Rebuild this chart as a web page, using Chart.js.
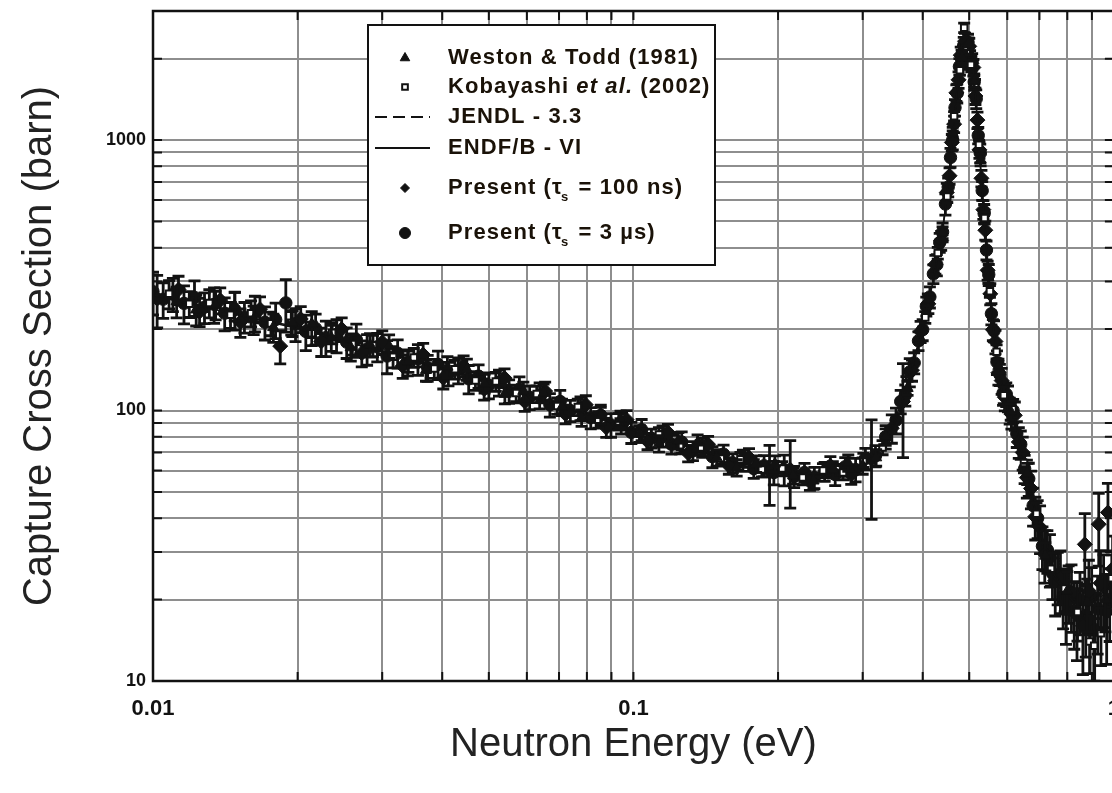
<!DOCTYPE html>
<html>
<head>
<meta charset="utf-8">
<script src="https://cdn.jsdelivr.net/npm/chart.js@4.4.1/dist/chart.umd.min.js"></script>
<style>
  html, body { margin: 0; padding: 0; background: #fff; overflow: hidden; }
  #wrap { position: relative; width: 1135px; height: 793px; }
</style>
</head>
<body>
<div id="wrap"><canvas id="c" width="1135" height="793"></canvas></div>
<script>
// Capture cross section vs neutron energy (eV, barn), error bars in percent.

const westonE = [0.0112,0.0123,0.0135,0.0148,0.0162,0.0178,0.0195,0.0214,0.0235,0.0258,
  0.0283,0.0310,0.0340,0.0370,0.0410,0.0450,0.0490,0.0540,0.0590,0.0650,
  0.0710,0.0780,0.0855,0.0940,0.103,0.113,0.124,0.136,0.149,0.164,
  0.180,0.197,0.215,0.237,0.260,0.280,0.300,0.320,0.335,
  0.372,0.410,0.440,0.462,0.483,0.498,0.512,0.528,0.548,0.575,
  0.610,0.660,0.720,0.800,0.880,0.960];
const westonXS = [253,236,246,244,217,203,211,209,186,171,
  175,173,152,141,145,142,126,115,118,116,
  103,94,96,93,82,75.5,77.5,76,67,61.5,
  63.5,63.5,57.5,55,60.5,64,62.5,67,80,
  121,257,455,1060,2020,2270,1650,845,311,146,
  99,58.5,29,21.5,19.5,20];
const westonErr = [13,13,12,12,12,12,11,11,11,11, 10,10,9,9,9,9,8,8,8,8,
  7,7,7,7,7,7,7,7,7,7, 7,7,7,7,7,7,7,7,7,
  6,5,5,5,5,5,5,5,5,6, 7,9,12,18,22,24];

const kobaE = [0.0108,0.0119,0.0131,0.0145,0.0160,0.0176,0.0194,0.0214,0.0236,0.0260,
  0.0287,0.0316,0.0349,0.0385,0.0425,0.0469,0.0517,0.0570,0.0629,0.0694,
  0.0766,0.0845,0.0932,0.103,0.113,0.125,0.138,0.152,0.167,0.185,
  0.204,0.225,0.248,0.273,0.301,0.330,0.370,0.405,0.430,0.450,
  0.465,0.478,0.488,0.494,0.504,0.514,0.524,0.538,0.552,0.570,
  0.590,0.615,0.650,0.690,0.740,0.790,0.840,0.890,0.910,0.940,0.990];
const kobaXS = [270,248,250,226,229,210,211,193,194,176,
  174,158,157,143,142,129,128,116,115,104,
  103,92.5,91,82,81.5,73.5,73,66.5,66,60.5,
  61,56.5,60,59,65.5,73,126,221,382,618,
  1225,1810,2600,2150,1900,1610,960,515,276,165,
  114,101,64,41.5,26,22,18,14,13.5,15,24];
const kobaErr = [12,11,12,11,11,10,10,10,9,9, 9,9,8,8,8,8,8,7,7,7, 7,7,7,7,6,6,6,6,6,6,
  6,6,6,6,6,6,6,5,5,5, 4,4,4,4,4,4,4,5,5,6, 7,7,8,10,14,18,22,24,26,24,22];

const jendlE = [0.01,0.015,0.02,0.03,0.04,0.05,0.06,0.08,0.1,0.12,
  0.15,0.18,0.2,0.22,0.25,0.28,0.3,0.32,0.34,0.36,
  0.38,0.4,0.42,0.44,0.45,0.46,0.47,0.48,0.49,0.5,
  0.51,0.52,0.53,0.54,0.55,0.56,0.58,0.6,0.62,0.64,
  0.66,0.7,0.75,0.8,0.86,0.93,1.0];
const jendlXS = [268,228,203,166,143,128,115,98,85,77,
  68,62,60,58,58.5,61,64,70,82,105,
  145,205,305,470,640,950,1450,2000,2250,2150,
  1800,1150,700,450,300,205,130,110,95,73,
  57,36,25,20.5,18.5,20,23];

const endfE = [0.01,0.015,0.02,0.03,0.04,0.05,0.06,0.08,0.1,0.12,
  0.15,0.18,0.2,0.22,0.25,0.28,0.3,0.32,0.34,0.36,
  0.38,0.4,0.42,0.44,0.45,0.46,0.47,0.48,0.49,0.5,
  0.51,0.52,0.53,0.54,0.55,0.56,0.58,0.6,0.62,0.64,
  0.66,0.7,0.75,0.8,0.86,0.93,1.0];
const endfXS = [266,226,201,165,142,127,114,97,84.5,76.5,
  67.5,61.5,59.5,57.5,58,60.5,63.5,69,80,102,
  141,200,298,460,625,930,1420,1980,2240,2170,
  1830,1180,720,460,305,208,132,111,96,74,
  58,36.5,25.5,21,19,20.5,23.5];

const p100E = [0.0102,0.0113,0.0125,0.0138,0.0152,0.0167,0.0184,0.0203,0.0224,0.0247,
  0.0272,0.0300,0.0331,0.0365,0.0402,0.0443,0.0489,0.0539,0.0594,0.0655,
  0.0722,0.0796,0.0878,0.0968,0.107,0.118,0.130,0.143,0.158,0.174,
  0.192,0.212,0.233,0.257,0.284,0.313,0.345,
  0.364,0.380,0.396,0.411,0.425,0.437,0.449,0.455,0.460,0.465,
  0.470,0.475,0.480,0.485,0.490,0.495,0.500,0.505,0.510,0.515,
  0.520,0.525,0.530,0.535,0.540,0.546,0.553,0.560,0.567,0.575,
  0.584,0.593,0.602,0.612,0.622,0.634,0.646,0.659,0.672,0.686,
  0.702,0.718,0.736,0.755,0.774,0.795,0.816,0.838,0.862,0.870,
  0.887,0.912,0.930,0.938,0.966,0.972,0.994];
const p100XS = [259,280,232,256,212,237,173,218,180,200,
  163,179,146,161,132,146,120,132,108,118,
  97,105,86.5,92.5,77,83,69.5,75,62.5,67,
  59.5,60.5,54.5,62.5,58,66,86,
  108,141,196,248,347,425,640,738,980,1145,
  1495,1670,2060,2080,2320,2210,2220,1920,1855,1455,
  1185,920,722,553,464,330,270,199,180,138,
  129,112,111,97,96,76.5,70,56.5,51.5,40.5,
  37,29.5,28.5,23.5,24,19.5,21,17.5,16,32,
  21.5,15.5,38,23,18,42,26];
const p100Err = [22,12,12,11,12,11,14,11,12,10, 11,10,10,10,9,9,9,8,8,8,
  8,8,8,8,7,7,7,7,7,8, 25,28,7,8,8,40,12,
  38,9,9,8,8,8,8,7,7,7, 7,7,7,7,7,7,7,7,7,7,
  7,7,7,8,8,8,9,9,10,10, 11,11,11,12,12,13,14,16,16,18,
  20,22,22,26,26,30,28,32,34,30, 30,36,30,32,36,28,32];

const p3E = [0.0100,0.0105,0.0110,0.0116,0.0122,0.0128,0.0134,0.0141,0.0148,0.0155,
  0.0163,0.0171,0.0180,0.0189,0.0198,0.0208,0.0218,0.0229,0.0241,0.0253,
  0.0265,0.0279,0.0293,0.0307,0.0323,0.0339,0.0356,0.0373,0.0392,0.0412,
  0.0432,0.0454,0.0476,0.0500,0.0525,0.0551,0.0579,0.0608,0.0638,0.0670,
  0.0704,0.0739,0.0776,0.0815,0.0855,0.0898,0.0943,0.0990,0.104,0.109,
  0.115,0.120,0.126,0.133,0.139,0.146,0.154,0.161,0.169,0.178,
  0.187,0.196,0.206,0.216,0.227,0.238,0.250,0.263,0.276,0.290,
  0.304,0.319,0.335,0.352,
  0.360,0.368,0.376,0.384,0.392,0.400,0.407,0.414,0.421,0.428,
  0.434,0.440,0.446,0.452,0.457,0.462,0.467,0.472,0.477,0.482,
  0.487,0.492,0.497,0.502,0.507,0.512,0.517,0.522,0.527,0.532,
  0.537,0.543,0.549,0.556,0.563,0.571,0.579,0.588,0.597,0.607,
  0.617,0.628,0.640,0.652,0.665,0.679,0.694,0.710,0.727,0.745,
  0.764,0.784,0.805,0.827,0.850,0.874,0.899,0.925,0.952,0.980];
const p3XS = [275,258,270,249,262,241,247,229,236,222,
  230,212,217,250,209,196,201,186,190,179,
  183,169,172,159,163,151,155,144,148,137,
  141,131,134,124,127,118,120,112,114,105,
  108,100,102,94,96,88.5,90,83,85,79,
  80.5,75,76.5,71,73,67.5,69,64,65.5,61,
  62.5,59,60.5,57,59,56.5,59.5,58,62,60.5,
  66.5,68,80,92,
  108,114,139,150,181,199,243,263,320,346,
  418,457,580,670,862,1000,1318,1490,1870,1990,
  2240,2200,2300,2000,1950,1640,1420,1040,895,650,
  535,392,318,228,197,151,136,116,115,100,
  100,82,75,61,56,44.5,40,31.5,30.5,25,
  24.5,20.5,21.5,18.2,20,17.5,20.5,18.5,22.5,20];
const p3Err = [18,15,14,16,15,13,15,14,16,13, 15,14,15,22,14,15,13,15,14,13, 14,13,12,14,
  12,11,13,11,12,10,11,12,10,11,11,10,11,10,11,10,10,9,10,9,9,10,9,9,
  9,8,9,8,9,8,8,9,8,8,9,8,9,10,13,9,8,9,8,9,8,10,9,9,10,11,
  10,9,12,9,8,9,8,9,8,9, 8,8,9,8,8,8,7,8,7,8, 7,7,7,7,7,7,8,7,8,8,
  8,8,9,9,9,10,9,10,10,11, 10,11,12,12,14,16,16,18,18,20, 22,24,24,28,26,30,28,32,30,30];

// Axis grid positions and labelled ticks
const xGridValues = [0.01,0.02,0.03,0.04,0.05,0.06,0.07,0.08,0.09,0.1,0.2,0.3,0.4,0.5,0.6,0.7,0.8,0.9,1];
const xLabelValues = [0.01, 0.1, 1];
const xLabelText = ['0.01', '0.1', '1'];
const yGridValues = [10,20,30,40,50,60,70,80,90,100,200,300,400,500,600,700,800,900,1000,2000,3000];
const yLabelValues = [10, 100, 1000];
const yLabelText = ['10', '100', '1000'];

const INK = '#121212';
const FONT = "'Liberation Sans', Arial, Helvetica, sans-serif";

const pts = (E, S) => E.map((e, i) => ({ x: e, y: S[i] }));

// Vertical error bars with caps, drawn beneath each dataset's markers
const errorBars = {
  id: 'errorBars',
  beforeDatasetDraw(chart, args) {
    const ds = chart.data.datasets[args.index];
    if (!ds.errors) return;
    const { ctx, chartArea: a } = chart;
    const xs = chart.scales.x, ys = chart.scales.y;
    ctx.save();
    ctx.beginPath();
    ctx.rect(a.left, a.top, a.right - a.left, a.bottom - a.top);
    ctx.clip();
    ctx.strokeStyle = INK;
    ctx.lineWidth = 2.8;
    ctx.beginPath();
    ds.data.forEach((p, i) => {
      const d = p.y * ds.errors[i] / 100;
      const px = xs.getPixelForValue(p.x);
      const y1 = ys.getPixelForValue(p.y + d);
      const y2 = ys.getPixelForValue(Math.max(p.y - d, 1e-3));
      ctx.moveTo(px, y1); ctx.lineTo(px, y2);
      ctx.moveTo(px - 6, y1); ctx.lineTo(px + 6, y1);
      ctx.moveTo(px - 6, y2); ctx.lineTo(px + 6, y2);
    });
    ctx.stroke();
    ctx.restore();
  }
};

// Plot frame with inward tick marks on all four sides
const frame = {
  id: 'frame',
  afterDraw(chart) {
    const { ctx, chartArea: a } = chart;
    const xs = chart.scales.x, ys = chart.scales.y;
    ctx.save();
    ctx.strokeStyle = INK;
    ctx.lineWidth = 2;
    ctx.beginPath();
    xs.ticks.forEach(t => {
      const px = xs.getPixelForValue(t.value);
      ctx.moveTo(px, a.bottom); ctx.lineTo(px, a.bottom - 9);
      ctx.moveTo(px, a.top); ctx.lineTo(px, a.top + 9);
    });
    ys.ticks.forEach(t => {
      const py = ys.getPixelForValue(t.value);
      ctx.moveTo(a.left, py); ctx.lineTo(a.left + 9, py);
      ctx.moveTo(a.right, py); ctx.lineTo(a.right - 9, py);
    });
    ctx.stroke();
    ctx.lineWidth = 2.5;
    ctx.strokeRect(a.left, a.top, a.right - a.left, a.bottom - a.top);
    ctx.restore();
  }
};

// Boxed legend inside the plot area
const legendPanel = {
  id: 'legendPanel',
  afterDatasetsDraw(chart) {
    const { ctx, chartArea: a } = chart;
    const left = a.left + 215, top = a.top + 14, w = 347, h = 240;
    const rowY = [33, 62, 92, 123, 163, 208];
    ctx.save();
    ctx.fillStyle = '#fff';
    ctx.fillRect(left, top, w, h);
    ctx.strokeStyle = INK;
    ctx.lineWidth = 2;
    ctx.strokeRect(left, top, w, h);
    chart.data.datasets.forEach((ds, i) => {
      const cy = top + rowY[i];
      const mx = left + 37;
      ctx.save();
      ctx.strokeStyle = INK;
      ctx.fillStyle = ds.backgroundColor;
      if (ds.showLine) {
        ctx.lineWidth = 2;
        ctx.setLineDash(ds.borderDash || []);
        ctx.beginPath();
        ctx.moveTo(left + 7, cy);
        ctx.lineTo(left + 62, cy);
        ctx.stroke();
      } else if (Chart.helpers && Chart.helpers.drawPoint) {
        ctx.lineWidth = ds.borderWidth || 1;
        Chart.helpers.drawPoint(ctx, {
          pointStyle: ds.pointStyle, radius: ds.legendRadius || ds.pointRadius,
          rotation: 0, borderWidth: ds.borderWidth || 1
        }, mx, cy);
      }
      ctx.restore();
      drawRichLabel(ctx, ds.label, left + 80, cy);
    });
    ctx.restore();
  }
};

function drawRichLabel(ctx, label, x, cy) {
  const parts = label.split(/(τs|et al\.)/).filter(s => s.length);
  ctx.save();
  ctx.fillStyle = '#1a1208';
  ctx.textBaseline = 'middle';
  ctx.textAlign = 'left';
  if ('letterSpacing' in ctx) ctx.letterSpacing = '1.1px';
  let cx = x;
  parts.forEach(p => {
    if (p === 'τs') {
      ctx.font = `bold 22px ${FONT}`;
      ctx.fillText('τ', cx, cy);
      cx += ctx.measureText('τ').width;
      ctx.font = `bold 13px ${FONT}`;
      ctx.fillText('s', cx - 2, cy + 9);
      cx += ctx.measureText('s').width;
    } else if (p === 'et al.') {
      ctx.font = `italic bold 22px ${FONT}`;
      ctx.fillText(p, cx, cy);
      cx += ctx.measureText(p).width;
    } else {
      ctx.font = `bold 22px ${FONT}`;
      ctx.fillText(p, cx, cy);
      cx += ctx.measureText(p).width;
    }
  });
  ctx.restore();
}

const marker = (extra) => Object.assign({
  showLine: false, borderColor: INK, backgroundColor: INK, borderWidth: 1
}, extra);

new Chart(document.getElementById('c'), {
  type: 'scatter',
  data: {
    datasets: [
      marker({ label: 'Weston & Todd (1981)', data: pts(westonE, westonXS), errors: westonErr,
        pointStyle: 'triangle', pointRadius: 6.5, legendRadius: 5.5 }),
      marker({ label: 'Kobayashi et al. (2002)', data: pts(kobaE, kobaXS), errors: kobaErr,
        pointStyle: 'rect', pointRadius: 4.6, legendRadius: 4, backgroundColor: '#fff', borderWidth: 2 }),
      { label: 'JENDL - 3.3', data: pts(jendlE, jendlXS), showLine: true, pointRadius: 0,
        borderColor: INK, backgroundColor: INK, borderWidth: 1.5, borderDash: [12, 6] },
      { label: 'ENDF/B - VI', data: pts(endfE, endfXS), showLine: true, pointRadius: 0,
        borderColor: INK, backgroundColor: INK, borderWidth: 1.5 },
      marker({ label: 'Present (τs = 100 ns)', data: pts(p100E, p100XS), errors: p100Err,
        pointStyle: 'rectRot', pointRadius: 7.5, legendRadius: 4.5 }),
      marker({ label: 'Present (τs = 3 µs)', data: pts(p3E, p3XS), errors: p3Err,
        pointStyle: 'circle', pointRadius: 6.2, legendRadius: 5.5 })
    ]
  },
  options: {
    responsive: false,
    animation: false,
    devicePixelRatio: 1,
    layout: { padding: { left: 0, top: 11, right: 7, bottom: 0 } },
    plugins: { legend: { display: false }, tooltip: { enabled: false } },
    scales: {
      x: {
        type: 'logarithmic', min: 0.01, max: 1,
        afterBuildTicks: s => { s.ticks = xGridValues.map(v => ({ value: v })); },
        afterFit: s => { s.height = 112; },
        border: { display: false },
        grid: { color: '#8e8e8e', lineWidth: 2, drawTicks: false },
        ticks: {
          autoSkip: false, maxRotation: 0, padding: 15, color: INK,
          font: { family: FONT, weight: 'bold', size: 22 },
          callback: v => { const i = xLabelValues.indexOf(v); return i >= 0 ? xLabelText[i] : ''; }
        },
        title: { display: true, text: 'Neutron Energy (eV)', color: '#222',
          font: { family: FONT, size: 40 }, padding: { top: 0, bottom: 24 } }
      },
      y: {
        type: 'logarithmic', min: 10, max: 3000,
        afterBuildTicks: s => { s.ticks = yGridValues.map(v => ({ value: v })); },
        afterFit: s => { s.width = 153; },
        border: { display: false },
        grid: { color: '#8e8e8e', lineWidth: 2, drawTicks: false },
        ticks: {
          autoSkip: false, padding: 7, color: INK,
          font: { family: FONT, weight: 'bold', size: 18, lineHeight: 0.3 },
          callback: v => { const i = yLabelValues.indexOf(v); return i >= 0 ? yLabelText[i] : ''; }
        },
        title: { display: true, text: 'Capture Cross Section (barn)', color: '#222',
          font: { family: FONT, size: 40 }, padding: { top: 16, bottom: 0 } }
      }
    }
  },
  plugins: [errorBars, legendPanel, frame]
});
</script>
</body>
</html>
